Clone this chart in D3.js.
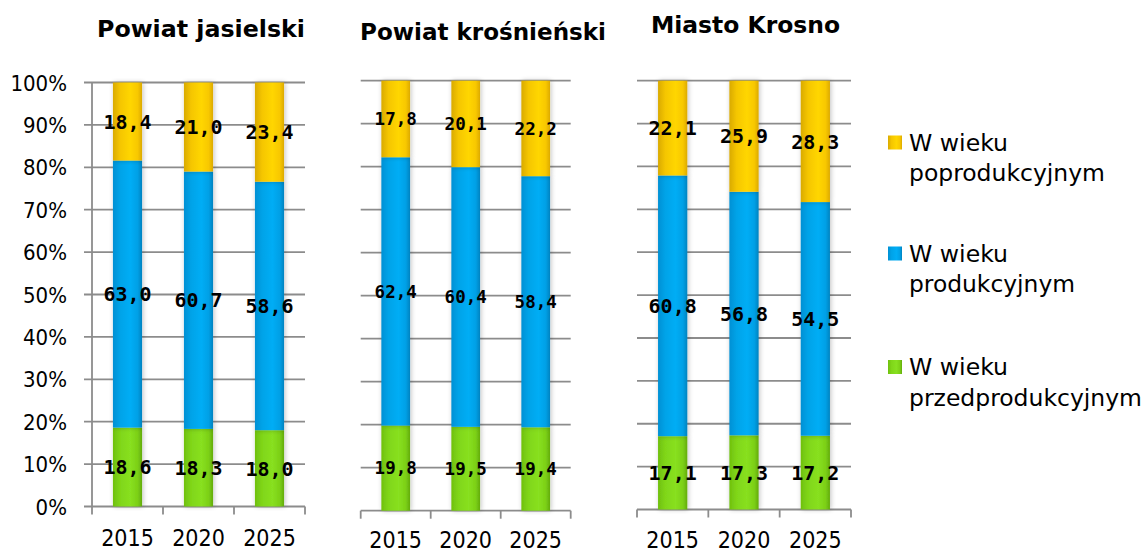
<!DOCTYPE html>
<html><head><meta charset="utf-8">
<script src="https://cdn.jsdelivr.net/npm/d3@7"></script>
<style>
html,body{margin:0;padding:0;background:#fff;}
svg{display:block;}
</style></head>
<body>
<svg id="c" width="1145" height="553"></svg>
<script>
const years = ["2015", "2020", "2025"];
const panelTitles = ["Powiat jasielski", "Powiat krośnieński", "Miasto Krosno"];
const seriesNames = ["W wieku przedprodukcyjnym", "W wieku produkcyjnym", "W wieku poprodukcyjnym"];
const legendLines = [["W wieku", "poprodukcyjnym"], ["W wieku", "produkcyjnym"], ["W wieku", "przedprodukcyjnym"]];
// values per panel, per year
const przed = [[18.6, 18.3, 18.0], [19.8, 19.5, 19.4], [17.1, 17.3, 17.2]];
const prod = [[63.0, 60.7, 58.6], [62.4, 60.4, 58.4], [60.8, 56.8, 54.5]];
const popr = [[18.4, 21.0, 23.4], [17.8, 20.1, 22.2], [22.1, 25.9, 28.3]];
const yTicks = [0, 10, 20, 30, 40, 50, 60, 70, 80, 90, 100];

const svg = d3.select("#c");
const defs = svg.append("defs");
function grad(id, stops) {
  const g = defs.append("linearGradient").attr("id", id).attr("x1", "0").attr("x2", "1").attr("y1", "0").attr("y2", "0");
  stops.forEach(s => g.append("stop").attr("offset", s[0]).attr("stop-color", s[1]));
}
grad("gYel", [[0, "#d9aa00"], [0.25, "#f5c600"], [0.6, "#ffd600"], [0.85, "#f8c800"], [1, "#dcaa00"]]);
grad("gBlu", [[0, "#0090d4"], [0.25, "#00a3e8"], [0.6, "#00adf5"], [0.85, "#00a0e6"], [1, "#0083c0"]]);
grad("gGrn", [[0, "#6fc00e"], [0.25, "#80d619"], [0.6, "#88e020"], [0.85, "#7cd016"], [1, "#63ac0c"]]);
const f = defs.append("filter").attr("id", "sh").attr("x", "-50%").attr("y", "-5%").attr("width", "200%").attr("height", "110%");
f.append("feGaussianBlur").attr("in", "SourceAlpha").attr("stdDeviation", 2.5).attr("result", "b");
f.append("feOffset").attr("in", "b").attr("dx", 1).attr("dy", 0).attr("result", "o");
f.append("feComponentTransfer").attr("in", "o").attr("result", "o2").append("feFuncA").attr("type", "linear").attr("slope", 0.25);
const fm = f.append("feMerge");
fm.append("feMergeNode").attr("in", "o2");
fm.append("feMergeNode").attr("in", "SourceGraphic");

const fills = ["url(#gGrn)", "url(#gBlu)", "url(#gYel)"];
const legendFills = ["url(#gYel)", "url(#gBlu)", "url(#gGrn)"];

const panels = [
  {x0: 92, x1: 305, yT: 82.5, yB: 506.5, axis: true, title: {x: 201, y: 37, w: 208}, yearY: 546, lblSize: 20},
  {x0: 360.7, x1: 570.7, yT: 80.7, yB: 510.7, axis: false, title: {x: 483, y: 40, w: 246}, yearY: 548, lblSize: 17.5},
  {x0: 637, x1: 851, yT: 80.7, yB: 509.5, axis: false, title: {x: 745.5, y: 33, w: 189}, yearY: 548, lblSize: 20}
];
const gridCol = "#8c8c8c";
const axFont = "'DejaVu Sans Condensed', 'DejaVu Sans', sans-serif";

panels.forEach((p, pi) => {
  const g = svg.append("g");
  const x = d3.scaleBand().domain(years).range([p.x0, p.x1]).paddingInner(0.59).paddingOuter(0.295);
  const y = d3.scaleLinear().domain([0, 100]).range([p.yB, p.yT]);
  g.selectAll("line.grid").data(yTicks.filter(t => t > 0)).join("line")
    .attr("x1", p.axis ? p.x0 - 8 : p.x0).attr("x2", p.x1)
    .attr("y1", d => y(d)).attr("y2", d => y(d))
    .attr("stroke", gridCol).attr("stroke-width", 1.8);
  g.append("line").attr("x1", p.axis ? p.x0 - 8 : p.x0).attr("x2", p.x1).attr("y1", y(0)).attr("y2", y(0))
    .attr("stroke", gridCol).attr("stroke-width", 1.8);
  const bounds = [p.x0].concat(years.map(yr => x(yr) - x.step() * 0.295 + x.step()));
  g.selectAll("line.xt").data(bounds).join("line")
    .attr("x1", d => d).attr("x2", d => d).attr("y1", y(0)).attr("y2", y(0) + 8)
    .attr("stroke", gridCol).attr("stroke-width", 1.8);
  if (p.axis) {
    g.append("line").attr("x1", p.x0).attr("x2", p.x0).attr("y1", y(100)).attr("y2", y(0))
      .attr("stroke", gridCol).attr("stroke-width", 1.8);
    g.selectAll("text.yl").data(yTicks).join("text")
      .attr("x", 67).attr("y", d => y(d) + 8).attr("text-anchor", "end")
      .attr("font-family", axFont).attr("font-size", 22).attr("fill", "#000")
      .text(d => d + "%");
  }
  const rows = years.map((yr, i) => ({year: yr, s0: przed[pi][i], s1: prod[pi][i], s2: popr[pi][i]}));
  const stack = d3.stack().keys(["s0", "s1", "s2"])(rows);
  stack.forEach((layer, li) => {
    g.selectAll(null).data(layer).join("rect")
      .attr("x", d => x(d.data.year)).attr("width", x.bandwidth())
      .attr("y", d => y(d[1])).attr("height", d => y(d[0]) - y(d[1]))
      .attr("fill", fills[li]).attr("filter", "url(#sh)");
  });
  stack.forEach((layer, li) => {
    g.selectAll(null).data(layer).join("text")
      .attr("x", d => x(d.data.year) + x.bandwidth() / 2)
      .attr("y", d => (y(d[0]) + y(d[1])) / 2 + p.lblSize * 0.36)
      .attr("text-anchor", "middle")
      .attr("font-family", "'DejaVu Sans Mono', monospace").attr("font-weight", "bold")
      .attr("font-size", p.lblSize).attr("fill", "#000")
      .text(d => d3.format(".1f")(d[1] - d[0]).replace(".", ","));
  });
  g.selectAll(null).data(years).join("text")
    .attr("x", d => x(d) + x.bandwidth() / 2).attr("y", p.yearY).attr("text-anchor", "middle")
    .attr("font-family", axFont).attr("font-size", 23).attr("fill", "#000").text(d => d);
  g.append("text").attr("x", p.title.x).attr("y", p.title.y).attr("text-anchor", "middle")
    .attr("font-family", axFont).attr("font-weight", "bold").attr("font-size", 23)
    .attr("textLength", p.title.w).attr("lengthAdjust", "spacingAndGlyphs")
    .attr("fill", "#000").text(panelTitles[pi]);
});

// legend
const legY = [150.5, 261.5, 375];
const legW = [[99, 196], [99, 166], [99, 233]];
const lg = svg.append("g");
legendLines.forEach((lines, i) => {
  lg.append("rect").attr("x", 888).attr("y", legY[i] - 15).attr("width", 14).attr("height", 14).attr("fill", legendFills[i]);
  lines.forEach((t, j) => {
    lg.append("text").attr("x", 909).attr("y", legY[i] + j * 30.5)
      .attr("font-family", axFont).attr("font-size", 23).attr("fill", "#000")
      .attr("textLength", legW[i][j]).attr("lengthAdjust", "spacingAndGlyphs").text(t);
  });
});
</script>
</body></html>
